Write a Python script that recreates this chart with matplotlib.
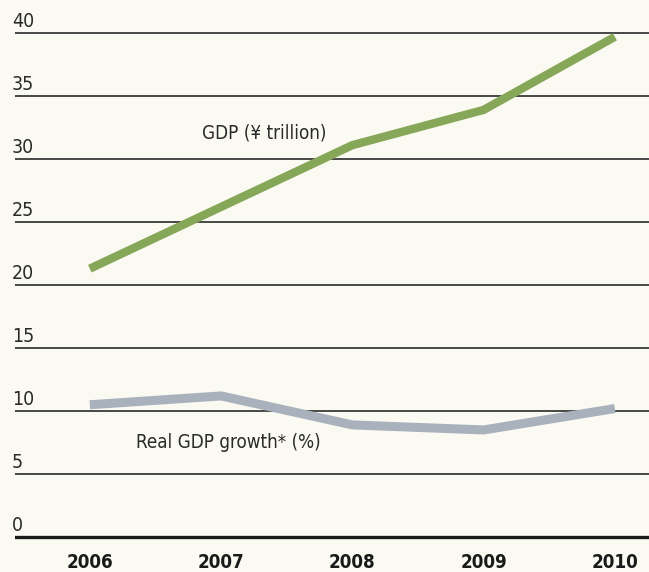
import matplotlib.pyplot as plt
import matplotlib.transforms as mtransforms

# data
years = [2006, 2007, 2008, 2009, 2010]
gdp = [21.3, 26.2, 31.1, 33.9, 39.7]          # GDP (¥ trillion)
growth = [10.5, 11.2, 8.9, 8.5, 10.2]         # real GDP growth (%)
yticks = [0, 5, 10, 15, 20, 25, 30, 35, 40]

# condensed look, close to the print typeface
plt.rcParams['font.family'] = ['DejaVu Sans']
plt.rcParams['font.stretch'] = 'condensed'

W, H = 649, 572
fig = plt.figure(figsize=(W / 100, H / 100), dpi=100)
bg = '#fbfaf2'
fig.patch.set_facecolor(bg)

ax = fig.add_axes([15 / W, (H - 545) / H, (W - 15) / W, 545 / H])
ax.set_facecolor(bg)
ax.set_xlim(2005.43, 2010.26)
ax.set_ylim(-0.63, 42.62)

# gridlines, heavier baseline at zero
for v in yticks:
    if v == 0:
        ax.axhline(v, color='#1a1a1a', lw=2.4, zorder=1)
    else:
        ax.axhline(v, color='#3a3a3a', lw=1.3, zorder=1)

# y labels sit on top of the gridlines at the far left
trans = mtransforms.blended_transform_factory(fig.transFigure, ax.transData)
for v in yticks:
    ax.text(12 / W, v + 0.15, str(v), transform=trans, ha='left', va='bottom',
            fontsize=14, color='#2a2a2a')

ax.plot(years, gdp, color='#86a658', lw=6, solid_capstyle='butt', zorder=3)
ax.plot(years, growth, color='#a9b1bd', lw=6.5, solid_capstyle='butt', zorder=3)

ax.text(2007.33, 32.1, 'GDP (¥ trillion)', ha='center', va='center',
        fontsize=13.5, color='#2a2a2a')
ax.text(2006.35, 7.5, 'Real GDP growth* (%)', ha='left', va='center',
        fontsize=13.5, color='#2a2a2a')

ax.set_xticks(years)
ax.set_xticklabels([str(y) for y in years], fontsize=13.5, fontweight='bold',
                   color='#1a1a1a')
ax.tick_params(axis='x', length=0, pad=6)
ax.set_yticks([])
for s in ax.spines.values():
    s.set_visible(False)

fig.savefig('out.png', dpi=100, facecolor=bg)
